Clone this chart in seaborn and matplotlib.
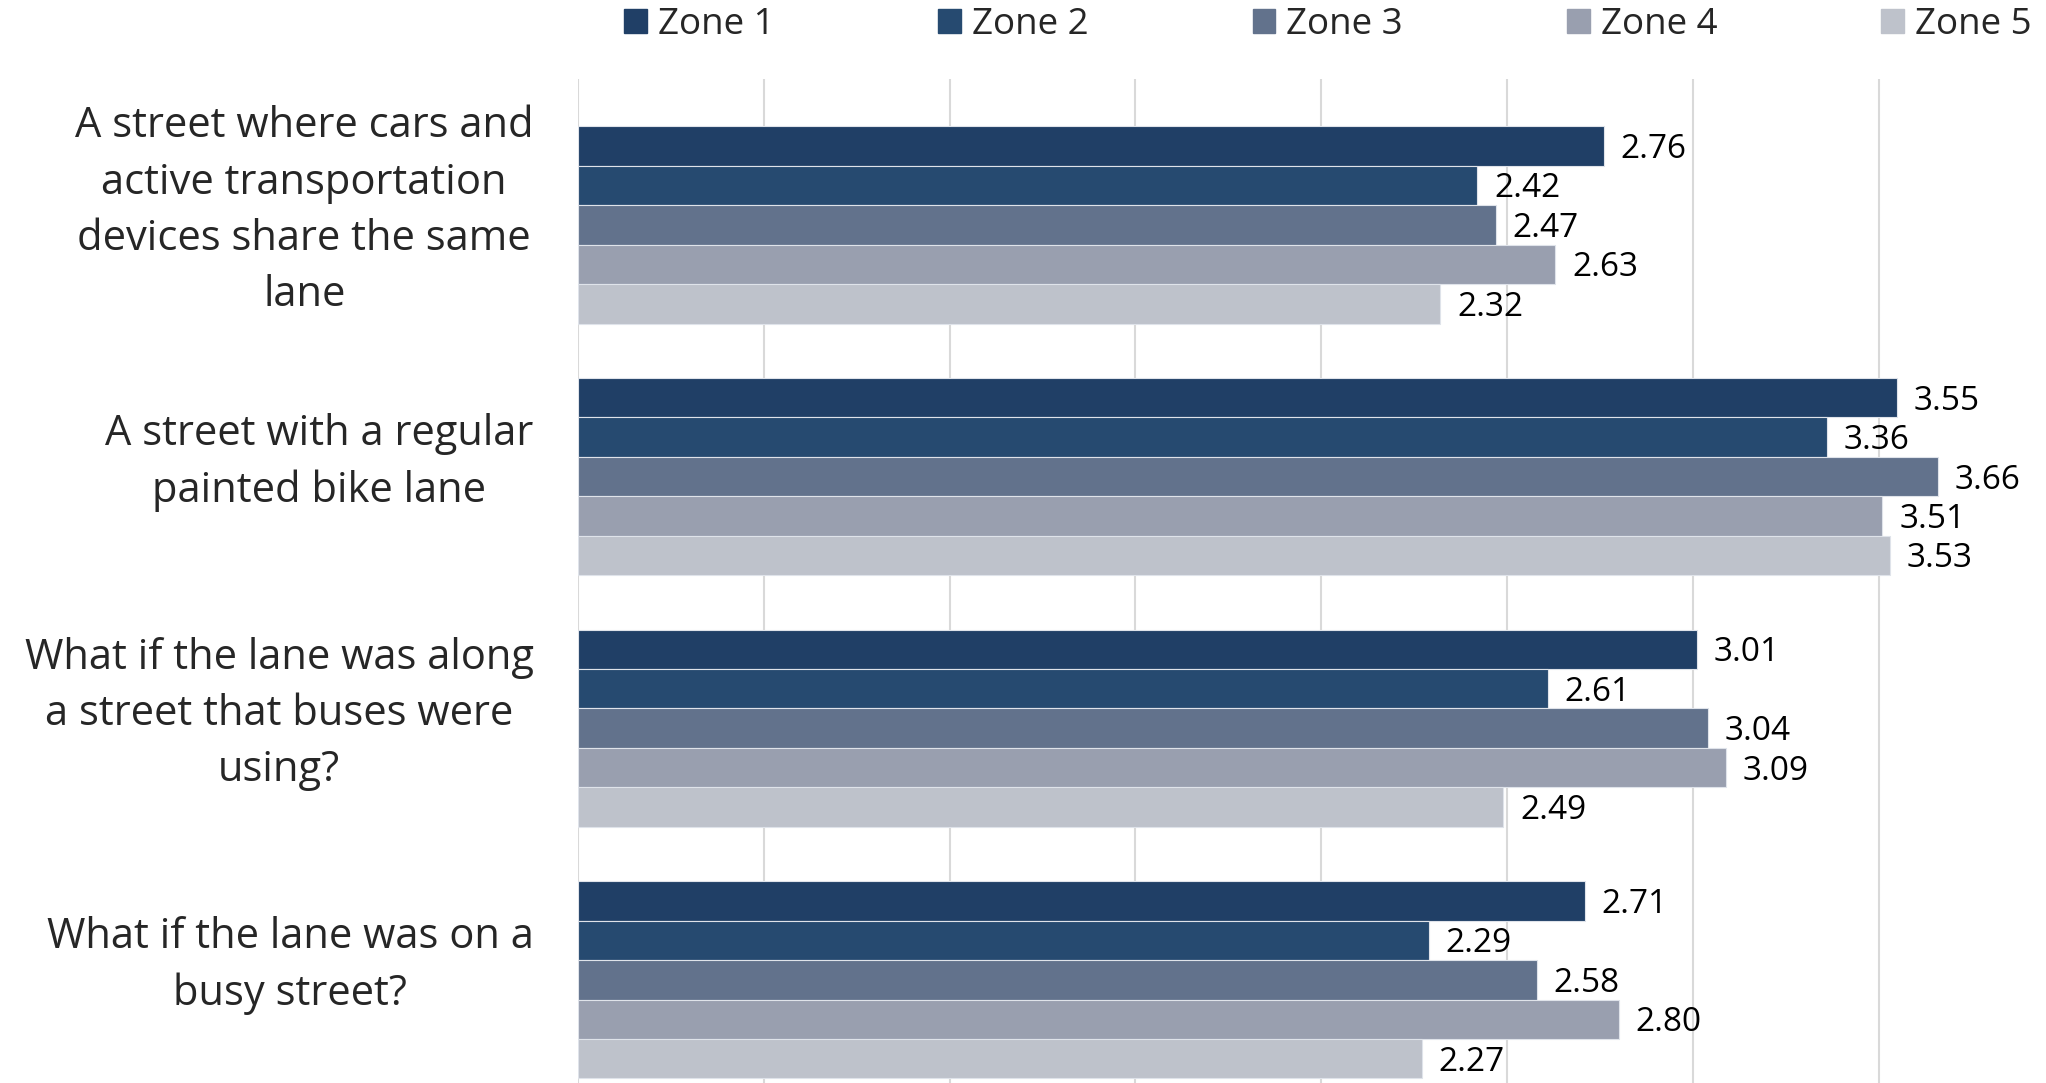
import pandas as pd
import numpy as np
import matplotlib.pyplot as plt
import matplotlib.transforms as mtransforms
import seaborn as sns

questions = [
    "A street where cars and\nactive transportation\ndevices share the same\nlane",
    "A street with a regular\npainted bike lane",
    "What if the lane was along\na street that buses were\nusing?",
    "What if the lane was on a\nbusy street?",
]
zones = ["Zone 1", "Zone 2", "Zone 3", "Zone 4", "Zone 5"]
zone1 = [2.76, 3.55, 3.01, 2.71]
zone2 = [2.42, 3.36, 2.61, 2.29]
zone3 = [2.47, 3.66, 3.04, 2.58]
zone4 = [2.63, 3.51, 3.09, 2.80]
zone5 = [2.32, 3.53, 2.49, 2.27]
colors = ["#203F66", "#264A70", "#62728C", "#999FAF", "#BEC2CB"]

rows = []
for zone, vals in zip(zones, [zone1, zone2, zone3, zone4, zone5]):
    for q, v in zip(questions, vals):
        rows.append({"Question": q, "Zone": zone, "Score": v})
df = pd.DataFrame(rows)

sns.set_theme(style="white")
plt.rcParams['font.family'] = ['Open Sans', 'DejaVu Sans']

fig = plt.figure(figsize=(20.46, 10.83), dpi=100)
ax = fig.add_axes([578 / 2046, 0.0, 1 - 578 / 2046, 1 - 79 / 1083])

sns.barplot(data=df, y="Question", x="Score", hue="Zone", palette=colors,
            orient="h", width=0.784, saturation=1, ax=ax, edgecolor="#dfe3ea",
            linewidth=0.8, legend=False)

for cont in ax.containers:
    for t in ax.bar_label(cont, fmt="%.2f", padding=12, fontsize=24, color="black"):
        t.xyann = (12, -2.5)  # nudge down a touch

ax.set_xlim(0, 3.95)
ax.set_ylim(3.41, -0.58)
ax.set_xticks(np.arange(0, 4.0, 0.5))
ax.set_xticklabels([])
ax.xaxis.grid(True, color="#d9d9d9", linewidth=1.5)
ax.set_axisbelow(True)
for s in ax.spines.values():
    s.set_visible(False)
ax.set_xlabel("")
ax.set_ylabel("")
ax.tick_params(axis="y", length=0, pad=32, labelsize=30)
ax.tick_params(axis="x", length=0)
# labels sit a bit above the group centre in the original
shift = mtransforms.ScaledTranslation(0, 19 / 72, fig.dpi_scale_trans)
for lbl in ax.get_yticklabels():
    lbl.set_multialignment("center")
    lbl.set_linespacing(1.45)
    lbl.set_transform(lbl.get_transform() + shift)

handles = [plt.Rectangle((0, 0), 1, 1, color=c) for c in colors]
fig.legend(handles, zones, loc="center left", bbox_to_anchor=(624 / 2046, 1 - 25 / 1083),
           ncol=5, frameon=False, fontsize=26.5, handlelength=0.62, handleheight=0.62,
           handletextpad=0.3, columnspacing=4.45, borderpad=0, borderaxespad=0)

fig.savefig("out.png", dpi=100)
